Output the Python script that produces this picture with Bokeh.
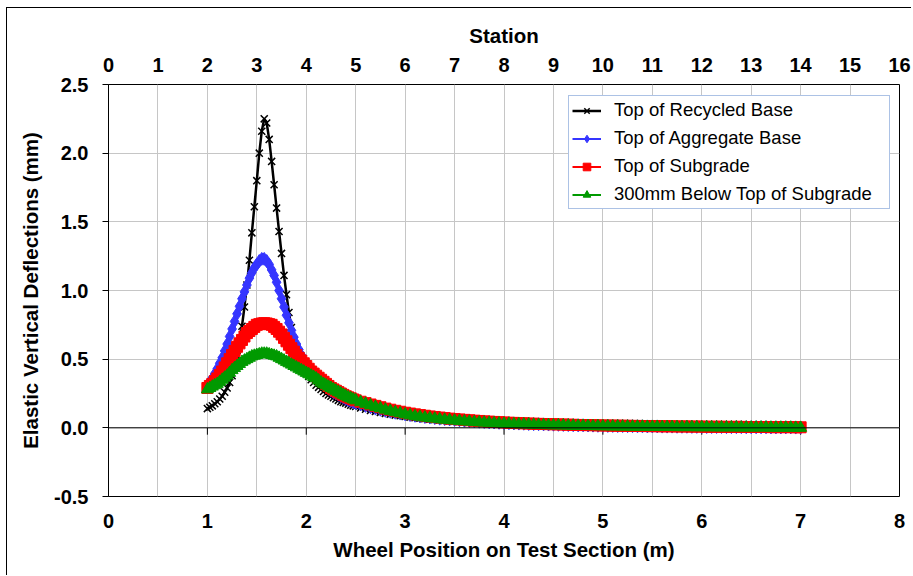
from bokeh.plotting import figure
from bokeh.models import (Range1d, LinearAxis, FixedTicker, Span, Legend, LegendItem,
                          NumeralTickFormatter, ColumnDataSource)
from bokeh.embed import file_html
from bokeh.resources import INLINE

# ---------------- data ----------------
# Peak zone sampled every 0.025 m from 1.0 to 2.5 m, tail every 0.05 m to 7.0 m
head_start, head_step = 1.0, 0.025
tail_start, tail_step = 2.55, 0.05

recycled_base_head = [
    0.14, 0.15, 0.16, 0.175, 0.19, 0.21, 0.23, 0.26, 0.29, 0.33,
    0.38, 0.44, 0.52, 0.62, 0.74, 0.88, 1.04, 1.22, 1.42, 1.61,
    1.80, 2.00, 2.16, 2.25, 2.22, 2.10, 1.94, 1.77, 1.60, 1.43,
    1.27, 1.11, 0.97, 0.84, 0.73, 0.64, 0.57, 0.52, 0.47, 0.43,
    0.40, 0.375, 0.35, 0.33, 0.31, 0.295, 0.28, 0.265, 0.25, 0.24,
    0.23, 0.22, 0.21, 0.20, 0.19, 0.185, 0.18, 0.172, 0.165, 0.16, 0.155,
]
recycled_base_tail = [
    0.145, 0.135, 0.127, 0.119, 0.112, 0.105, 0.099, 0.093, 0.088, 0.083,
    0.078, 0.074, 0.070, 0.066, 0.063, 0.060, 0.057, 0.054, 0.051, 0.049,
    0.046, 0.044, 0.042, 0.040, 0.038, 0.036, 0.035, 0.033, 0.032, 0.030,
    0.029, 0.028, 0.027, 0.026, 0.025, 0.024, 0.023, 0.022, 0.021, 0.020,
    0.019, 0.018, 0.018, 0.017, 0.016, 0.015, 0.015, 0.014, 0.013, 0.013,
    0.012, 0.012, 0.011, 0.011, 0.010, 0.010, 0.009, 0.009, 0.009, 0.008,
    0.008, 0.007, 0.007, 0.007, 0.006, 0.006, 0.006, 0.005, 0.005, 0.005,
    0.005, 0.004, 0.004, 0.004, 0.004, 0.003, 0.003, 0.003, 0.003, 0.003,
    0.002, 0.002, 0.002, 0.002, 0.002, 0.001, 0.001, 0.001, 0.001, 0.001,
]
aggregate_base_head = [
    0.31, 0.335, 0.36, 0.395, 0.43, 0.47, 0.51, 0.56, 0.61, 0.665,
    0.72, 0.775, 0.83, 0.885, 0.94, 0.99, 1.04, 1.09, 1.13, 1.165,
    1.19, 1.215, 1.23, 1.23, 1.215, 1.19, 1.15, 1.11, 1.06, 1.00,
    0.94, 0.88, 0.82, 0.765, 0.71, 0.66, 0.61, 0.57, 0.53, 0.495,
    0.46, 0.435, 0.41, 0.39, 0.37, 0.35, 0.33, 0.315, 0.30, 0.285,
    0.27, 0.26, 0.25, 0.24, 0.23, 0.22, 0.21, 0.202, 0.195, 0.187, 0.18,
]
aggregate_base_tail = [
    0.17, 0.16, 0.15, 0.14, 0.132, 0.124, 0.117, 0.110, 0.104, 0.098,
    0.093, 0.088, 0.083, 0.079, 0.075, 0.071, 0.067, 0.064, 0.061, 0.058,
    0.055, 0.052, 0.050, 0.047, 0.045, 0.043, 0.041, 0.039, 0.037, 0.035,
    0.034, 0.032, 0.031, 0.030, 0.028, 0.027, 0.026, 0.025, 0.024, 0.023,
    0.022, 0.021, 0.020, 0.019, 0.018, 0.018, 0.017, 0.016, 0.015, 0.015,
    0.014, 0.014, 0.013, 0.013, 0.012, 0.012, 0.011, 0.011, 0.010, 0.010,
    0.010, 0.009, 0.009, 0.009, 0.008, 0.008, 0.008, 0.007, 0.007, 0.007,
    0.006, 0.006, 0.006, 0.006, 0.005, 0.005, 0.005, 0.005, 0.004, 0.004,
    0.004, 0.004, 0.004, 0.003, 0.003, 0.003, 0.003, 0.003, 0.002, 0.002,
]
subgrade_head = [
    0.29, 0.305, 0.32, 0.34, 0.36, 0.385, 0.41, 0.44, 0.47, 0.50,
    0.53, 0.56, 0.59, 0.615, 0.64, 0.665, 0.69, 0.705, 0.72, 0.735,
    0.75, 0.755, 0.76, 0.762, 0.76, 0.755, 0.75, 0.735, 0.72, 0.70,
    0.68, 0.655, 0.63, 0.605, 0.58, 0.555, 0.53, 0.51, 0.49, 0.47,
    0.45, 0.43, 0.41, 0.395, 0.38, 0.365, 0.35, 0.335, 0.32, 0.305,
    0.29, 0.28, 0.27, 0.26, 0.25, 0.24, 0.23, 0.222, 0.215, 0.207, 0.20,
]
subgrade_tail = [
    0.19, 0.18, 0.17, 0.16, 0.15, 0.14, 0.132, 0.124, 0.117, 0.110,
    0.104, 0.098, 0.093, 0.088, 0.083, 0.079, 0.075, 0.071, 0.067, 0.064,
    0.061, 0.058, 0.055, 0.052, 0.050, 0.047, 0.045, 0.043, 0.041, 0.039,
    0.037, 0.036, 0.034, 0.033, 0.031, 0.030, 0.029, 0.028, 0.027, 0.026,
    0.025, 0.024, 0.023, 0.022, 0.021, 0.020, 0.020, 0.019, 0.018, 0.017,
    0.017, 0.016, 0.016, 0.015, 0.015, 0.014, 0.014, 0.013, 0.013, 0.012,
    0.012, 0.011, 0.011, 0.011, 0.010, 0.010, 0.010, 0.009, 0.009, 0.009,
    0.008, 0.008, 0.008, 0.008, 0.007, 0.007, 0.007, 0.007, 0.006, 0.006,
    0.006, 0.006, 0.006, 0.005, 0.005, 0.005, 0.005, 0.005, 0.004, 0.004,
]
below_subgrade_head = [
    0.28, 0.29, 0.30, 0.31, 0.32, 0.335, 0.35, 0.365, 0.38, 0.40,
    0.42, 0.435, 0.45, 0.465, 0.48, 0.49, 0.50, 0.51, 0.52, 0.525,
    0.53, 0.535, 0.54, 0.54, 0.54, 0.535, 0.53, 0.525, 0.52, 0.51,
    0.50, 0.49, 0.48, 0.47, 0.46, 0.45, 0.44, 0.43, 0.42, 0.41,
    0.40, 0.39, 0.38, 0.37, 0.36, 0.345, 0.33, 0.32, 0.31, 0.30,
    0.29, 0.28, 0.27, 0.26, 0.25, 0.24, 0.23, 0.222, 0.215, 0.207, 0.20,
]
below_subgrade_tail = [
    0.187, 0.175, 0.163, 0.152, 0.142, 0.132, 0.123, 0.114, 0.106, 0.098,
    0.091, 0.085, 0.080, 0.075, 0.071, 0.067, 0.063, 0.059, 0.056, 0.053,
    0.050, 0.047, 0.045, 0.042, 0.040, 0.038, 0.036, 0.034, 0.032, 0.030,
    0.029, 0.027, 0.026, 0.025, 0.024, 0.022, 0.021, 0.020, 0.019, 0.018,
    0.018, 0.017, 0.016, 0.015, 0.014, 0.014, 0.013, 0.012, 0.012, 0.011,
    0.011, 0.010, 0.010, 0.009, 0.009, 0.008, 0.008, 0.008, 0.007, 0.007,
    0.007, 0.006, 0.006, 0.006, 0.005, 0.005, 0.005, 0.005, 0.004, 0.004,
    0.004, 0.004, 0.003, 0.003, 0.003, 0.003, 0.003, 0.002, 0.002, 0.002,
    0.002, 0.002, 0.002, 0.001, 0.001, 0.001, 0.001, 0.001, 0.000, 0.000,
]

series_names = ["Top of Recycled Base", "Top of Aggregate Base",
                "Top of Subgrade", "300mm Below Top of Subgrade"]

x_ticks = [0, 1, 2, 3, 4, 5, 6, 7, 8]
station_ticks = list(range(0, 17))
y_ticks = [-0.5, 0.0, 0.5, 1.0, 1.5, 2.0, 2.5]

# ---------------- figure ----------------
FONT = "Liberation Sans"

p = figure(width=905, height=568, output_backend="svg", toolbar_location=None,
           x_range=Range1d(0, 8), y_range=Range1d(-0.5, 2.5),
           min_border_left=101, min_border_right=13,
           min_border_top=76, min_border_bottom=80,
           x_axis_location=None, y_axis_location=None)
p.styles = {"border-left": "1px solid black", "border-top": "1px solid black",
            "margin-left": "6px", "margin-top": "7px"}
p.outline_line_color = "black"
p.outline_line_width = 1
p.background_fill_color = "white"
p.border_fill_color = "white"

# grids (every half metre = every station)
p.xgrid.ticker = FixedTicker(ticks=[s / 2 for s in station_ticks])
p.ygrid.ticker = FixedTicker(ticks=y_ticks)
for g in (p.xgrid, p.ygrid):
    g.grid_line_color = "#c6c6c6"
    g.grid_line_width = 1

# left axis
yax = LinearAxis(ticker=FixedTicker(ticks=y_ticks),
                 formatter=NumeralTickFormatter(format="0.0"),
                 axis_label="Elastic Vertical Deflections (mm)")
yax.axis_line_color = "black"
yax.major_tick_line_color = "black"
yax.major_tick_out = 6
yax.major_tick_in = 0
yax.minor_tick_line_color = None
yax.major_label_standoff = 14
yax.axis_label_standoff = 9
p.add_layout(yax, "left")

# bottom axis
xax = LinearAxis(ticker=FixedTicker(ticks=x_ticks),
                 axis_label="Wheel Position on Test Section (m)")
xax.axis_line_color = None
xax.major_tick_line_color = None
xax.minor_tick_line_color = None
xax.major_label_standoff = 11
xax.axis_label_standoff = 7
p.add_layout(xax, "below")

# top axis (station)
p.extra_x_ranges = {"station": Range1d(0, 16)}
tax = LinearAxis(x_range_name="station", ticker=FixedTicker(ticks=station_ticks),
                 axis_label="Station")
tax.axis_line_color = None
tax.major_tick_line_color = None
tax.minor_tick_line_color = None
tax.major_label_standoff = 7
tax.axis_label_standoff = 8
p.add_layout(tax, "above")

for ax in (yax, xax, tax):
    ax.major_label_text_font = FONT
    ax.major_label_text_font_style = "bold"
    ax.major_label_text_font_size = "20px"
    ax.major_label_text_color = "black"
    ax.axis_label_text_font = FONT
    ax.axis_label_text_font_style = "bold"
    ax.axis_label_text_font_size = "20.5px"
    ax.axis_label_text_color = "black"

# zero line with downward ticks (Excel category axis crossing at 0)
p.add_layout(Span(location=0, dimension="width", line_color="black", line_width=1))
p.segment(x0=x_ticks, y0=[0] * len(x_ticks), x1=x_ticks, y1=[-0.05] * len(x_ticks),
          line_color="black", line_width=1)

# ---------------- series ----------------
def positions(head, tail):
    xs = [round(head_start + head_step * i, 3) for i in range(len(head))]
    xs += [round(tail_start + tail_step * i, 3) for i in range(len(tail))]
    return xs

styles = [
    dict(head=recycled_base_head, tail=recycled_base_tail, color="black",
         marker="x", size=10, mline=1.5, lw=2.5),
    dict(head=aggregate_base_head, tail=aggregate_base_tail, color="#3535ff",
         marker="diamond", size=13, mline=1, lw=2),
    dict(head=subgrade_head, tail=subgrade_tail, color="#ff0000",
         marker="square", size=11, mline=1, lw=2),
    dict(head=below_subgrade_head, tail=below_subgrade_tail, color="#009a00",
         marker="triangle", size=12, mline=1, lw=2),
]

items = []
for name, st in zip(series_names, styles):
    src = ColumnDataSource(dict(x=positions(st["head"], st["tail"]),
                                y=st["head"] + st["tail"]))
    lr = p.line("x", "y", source=src, line_color=st["color"], line_width=st["lw"])
    sr = p.scatter("x", "y", source=src, marker=st["marker"], size=st["size"],
                   line_color=st["color"], fill_color=st["color"],
                   line_width=st["mline"])
    items.append(LegendItem(label=name, renderers=[lr, sr]))

legend = Legend(items=items, location=(460, 287))
legend.margin = 0
legend.padding = 3
legend.spacing = 6
legend.glyph_width = 29
legend.glyph_height = 19
legend.label_height = 19
legend.label_width = 272
legend.label_standoff = 13
legend.label_text_font = FONT
legend.label_text_font_size = "18.5px"
legend.label_text_color = "black"
legend.border_line_color = "#5a86cc"
legend.border_line_width = 1
legend.background_fill_color = "white"
legend.background_fill_alpha = 1
p.add_layout(legend)

open("out.html", "w").write(file_html(p, INLINE))
